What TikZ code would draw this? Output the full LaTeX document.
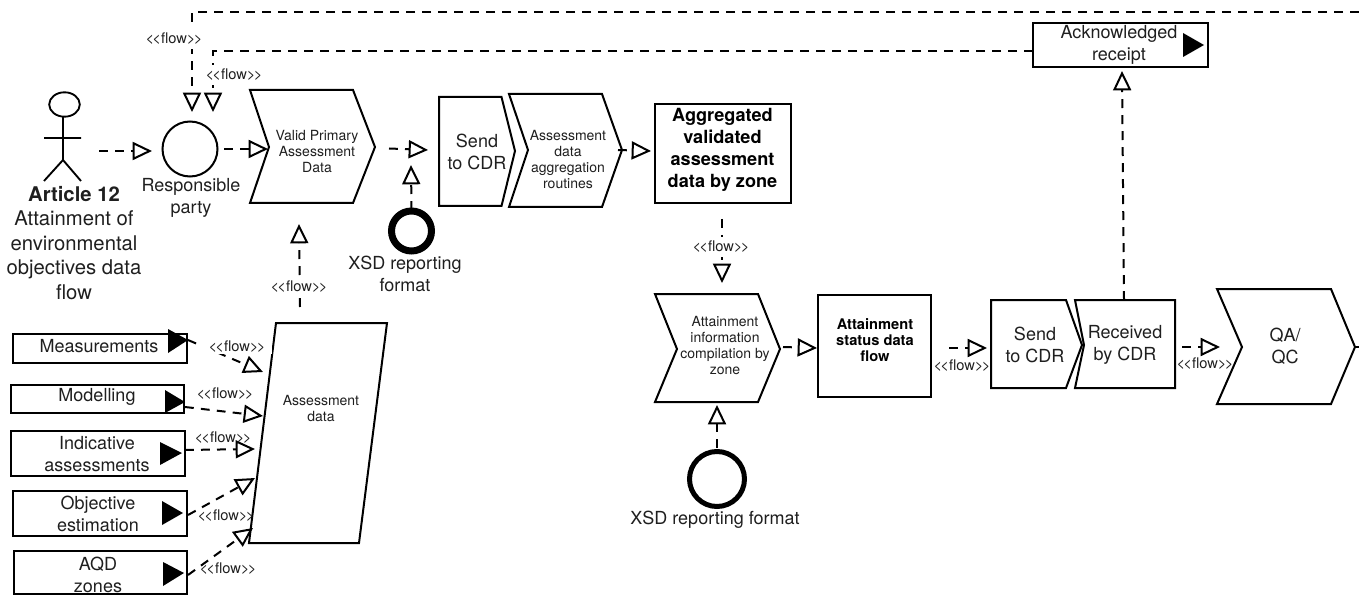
\documentclass[tikz,border=0pt]{standalone}
\usepackage{fontspec}
\setmainfont{TeX Gyre Heros}
\usetikzlibrary{arrows.meta,calc,fit}
\definecolor{ink}{gray}{0.12}
\newcommand{\flowtext}{<\kern-1.2pt<flow>\kern-1.2pt>}
\tikzset{
  shp/.style={draw=black,line width=1.5pt,line join=miter},
  bound/.style={inner sep=0pt,outer sep=0pt},
  flow/.style={line width=1.5pt,dash pattern=on 6.6pt off 5.4pt,-{Triangle[length=14.5pt,width=13.5pt,fill=white,line width=1.5pt]}},
  flowstub/.style={line width=1.5pt,dash pattern=on 6.6pt off 5.4pt},
  big/.style={align=center,text=ink,inner sep=0pt,font=\fontsize{13.5}{16.5}\selectfont},
  small/.style={align=center,text=ink,inner sep=0pt,font=\fontsize{10.5}{12}\selectfont},
  bigb/.style={align=center,text=black,inner sep=0pt,font=\fontsize{13.6}{16.5}\bfseries\selectfont},
  smallb/.style={align=center,text=black,inner sep=0pt,font=\fontsize{11}{12}\bfseries\selectfont},
  flowl/.style={text=ink,inner sep=0pt,font=\fontsize{11}{12}\selectfont},
  flowlw/.style={flowl,fill=white,inner xsep=2pt,inner ysep=3pt},
  marker/.style={fill=black,draw=none},
}
% name, x-left, x-shoulder, x-tip, y-top, y-bottom, x-notch, y-mid
\newcommand{\chevshape}[8]{%
  \draw[shp] (#2,#5) -- (#3,#5) -- (#4,#8) -- (#3,#6) -- (#2,#6) -- (#7,#8) -- cycle;
  \node[bound,fit={(#2,#5)(#4,#6)}] (#1) {};}
% name, x1, y1, x2, y2
\newcommand{\rectshape}[5]{%
  \node[shp,bound,fit={(#2,#3)(#4,#5)}] (#1) {};}
\begin{document}
\begin{tikzpicture}[x=0.75pt,y=-0.75pt]
\useasboundingbox (0,0) rectangle (1359,595);

% actor
\node[bound,fit={(44,92)(81,181)}] (actor) {};
\draw[line width=1.4pt] (64.5,104.5) ellipse [x radius=15.3,y radius=12.2];
\draw[line width=1.4pt] (63,117) -- (63,160) (44,138) -- (81,138) (44,181) -- (63,160) -- (81,181);
\node[big,font=\fontsize{15.2}{18.4}\selectfont] (actort) at (74,243) {\textbf{Article 12}\\Attainment of\\environmental\\objectives data\\flow};

\node[circle,shp,bound,minimum size=41.25pt] (resp) at (190,149) {};
\node[big] (respt) at (191,198) {Responsible\\party};

\chevshape{val}{250}{353}{375}{90}{203}{269}{147}
\node[small] (valt) at (317,152) {Valid Primary\\Assessment\\Data};

\draw[shp] (439,97) -- (501.5,97) -- (515,151) -- (501.5,206) -- (439,206) -- cycle;
\node[bound,fit={(439,97)(515,206)}] (send) {};
\node[big] (sendt) at (477,152) {Send\\to CDR};

\chevshape{aggr}{509}{602}{622}{94}{207}{528}{150}
\node[small] (aggrt) at (568,160) {Assessment\\data\\aggregation\\routines};

\rectshape{agg}{655}{104}{791}{203}
\node[bigb] (aggt) at (722.5,150) {Aggregated\\validated\\assessment\\data by zone};

\node[circle,draw=black,line width=5.25pt,bound,minimum size=30pt] (xsda) at (411.5,231) {};
\node[big] (xsdat) at (405,273.5) {XSD reporting\\format};

% assessment data
\draw[shp] (276,323) -- (387,323) -- (359,543) -- (249,543) -- cycle;
\node[bound,fit={(249,323)(387,543)}] (assess) {};
\node[small] (assesst) at (321,408) {Assessment\\data};

\rectshape{meas}{13}{334}{187}{363}
\node[big] (meast) at (99,346) {Measurements};
\rectshape{mod}{11}{385}{184}{413}
\node[big] (modt) at (97,397) {Modelling};
\rectshape{ind}{11}{431}{184.5}{476}
\node[big] (indt) at (97,454) {Indicative\\assessments};
\rectshape{obj}{13}{491}{187}{536}
\node[big] (objt) at (98,514) {Objective\\estimation};
\rectshape{aqd}{13.5}{551}{187}{594}
\node[big] (aqdt) at (98,574.5) {AQD\\zones};

\chevshape{comp}{655}{758}{780}{294}{402}{677}{349}
\node[small] (compt) at (725,346) {Attainment\\information\\compilation by\\zone};

\rectshape{stat}{818}{295}{931}{397}
\node[smallb] (statt) at (875,340) {Attainment\\status data\\flow};

\node[circle,draw=black,line width=3.75pt,bound,minimum size=41.25pt] (xsdb) at (717,479) {};
\node[big] (xsdbt) at (715,520) {XSD reporting format};

\draw[shp] (991,300) -- (1066,300) -- (1082,345) -- (1066,388) -- (991,388) -- cycle;
\node[bound,fit={(991,300)(1082,388)}] (sendb) {};
\node[big] (sendbt) at (1035,345) {Send\\to CDR};

\draw[shp] (1075,300) -- (1175,300) -- (1175,388) -- (1075,388) -- (1084,345) -- cycle;
\node[bound,fit={(1075,300)(1175,388)}] (recv) {};
\node[big] (recvt) at (1125,345) {Received\\by CDR};

\chevshape{qa}{1217}{1331}{1355}{289}{404}{1242}{347}
\node[big] (qat) at (1285,346) {QA/\\QC};

\rectshape{ack}{1033}{23}{1208}{67}
\node[big] (ackt) at (1119,45) {Acknowledged\\receipt};

% free ends
\coordinate (topr) at (1359,12.5);
\coordinate (xsdatip) at (411,165);
\coordinate (qaout) at (1359,347);

% connectors
\draw[flow] ($(actor.east)+(18,14.5)$) -- ($(resp.west)+(-10.5,2)$);
\draw[flow] ($(resp.east)+(6.5,0)$) -- ($(val.west)+(18,2.5)$);
\draw[flow] ($(val.east)+(14,2)$) -- ($(send.west)+(-11,-1.5)$);
\draw[flow] ($(xsda.north)+(0,-1)$) -- (xsdatip);
\draw[flow] ($(aggr.east)+(-4,-0.5)$) -- ($(agg.west)+(-4,-2.5)$);
\draw[flow] ($(agg.south)+(-1,16)$) -- ($(comp.north)+(4.5,-11)$);
\draw[flow] ($(comp.east)+(3,-1)$) -- ($(stat.west)+(-1,2)$);
\draw[flow] ($(stat.east)+(18,2)$) -- ($(sendb.west)+(-4,4)$);
\draw[flow] ($(recv.east)+(7,3)$) -- ($(qa.west)+(3,0.5)$);
\draw[flow] ($(recv.north)+(-1,0)$) -- ($(ack.south)+(1.5,4)$);
\draw[flow] ($(xsdb.north)+(0,-4)$) -- ($(comp.south)+(-0.5,3)$);
\draw[flow] ($(assess.north)+(-18,-16)$) -- ($(val.south)+(-13.5,21)$);
\draw[flow] (topr) -| ($(resp.north)+(2,-9.5)$);
\draw[flow] ($(ack.west)+(0,6.5)$) -| ($(resp.north)+(23,-9.5)$);
\draw[flowstub] (qa.east |- qaout) -- (qaout);
\draw[flow] ($(meas.east)+(1,-8.5)$) -- ($(assess.west)+(14,-61)$);
\draw[flow] ($(mod.east)+(1,8)$) -- ($(assess.west)+(14,-17)$);
\draw[flow] ($(ind.east)+(0.5,-3.5)$) -- ($(assess.west)+(6,16)$);
\draw[flow] ($(obj.east)+(1,1.5)$) -- ($(assess.west)+(6,45)$);
\draw[flow] ($(aqd.east)+(1,2.5)$) -- ($(assess.west)+(4,95)$);

% filled markers
\fill[marker] (168,329) -- (188,340) -- (168,353) -- cycle;
\fill[marker] (165,390) -- (185,402) -- (165,413) -- cycle;
\fill[marker] (160,442) -- (182,453) -- (160,465) -- cycle;
\fill[marker] (162,501) -- (183,513) -- (162,525) -- cycle;
\fill[marker] (163,562) -- (184,573) -- (163,586) -- cycle;
\fill[marker] (1183,33) -- (1204,45) -- (1183,57) -- cycle;

% flow labels
\node[flowlw] (fl1) at (174,39) {\flowtext};
\node[flowlw] (fl2) at (234,75) {\flowtext};
\node[flowlw] (fl3) at (299,287) {\flowtext};
\node[flowlw] (fl4) at (721,247) {\flowtext};
\node[flowlw,inner xsep=5pt,inner ysep=1.5pt] (fl5) at (237,346.5) {\flowtext};
\node[flowl] (fl6) at (225,394) {\flowtext};
\node[flowl] (fl7) at (223,438) {\flowtext};
\node[flowl] (fl8) at (226,516) {\flowtext};
\node[flowl] (fl9) at (228,569) {\flowtext};
\node[flowl] (fl10) at (962,366) {\flowtext};
\node[flowl] (fl11) at (1205,364) {\flowtext};
\end{tikzpicture}
\end{document}
